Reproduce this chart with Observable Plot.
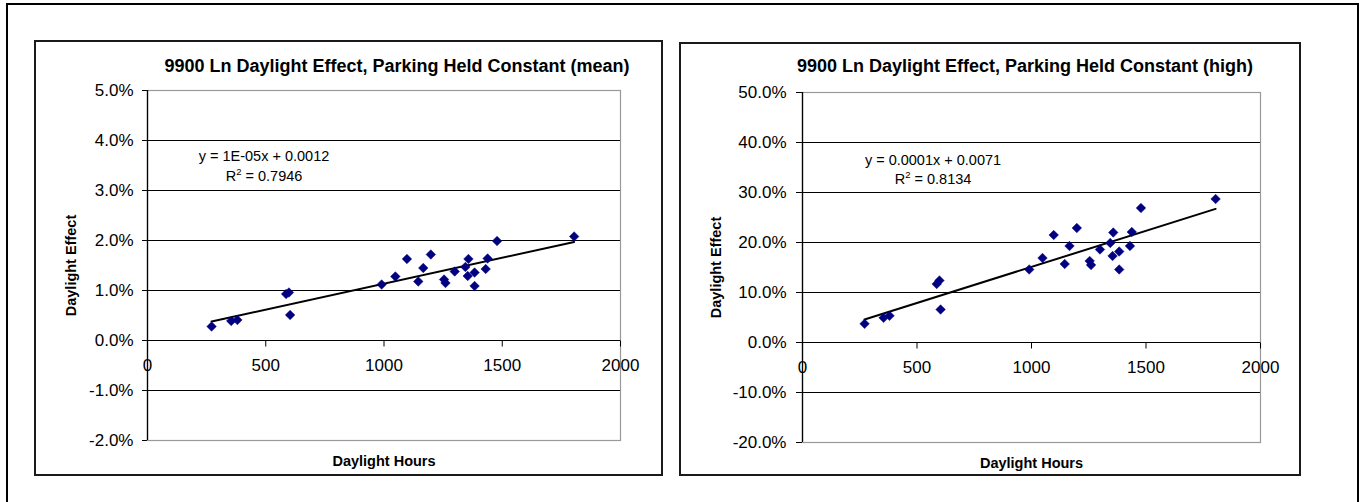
<!DOCTYPE html>
<html><head><meta charset="utf-8">
<script src="https://cdn.jsdelivr.net/npm/d3@7"></script>
<script src="https://cdn.jsdelivr.net/npm/@observablehq/plot@0.6"></script>
<style>
body{margin:0;background:#fff;}
#page{position:relative;width:1365px;height:502px;overflow:hidden;font-family:"Liberation Sans",Arial,sans-serif;color:#000;background:#fff;}
.box{position:absolute;box-sizing:border-box;}
.title{position:absolute;font-weight:bold;font-size:18px;line-height:18px;white-space:nowrap;text-align:center;width:600px;}
.eq{position:absolute;font-size:14.5px;text-align:center;width:240px;white-space:nowrap;}
.eq sup{font-size:9.5px;line-height:0;vertical-align:6px;}
.chart{position:absolute;}
</style></head><body>
<div id="page">
  <div class="box" style="left:6px;top:3px;width:1353px;height:600px;border:2.5px solid #000;"></div>
  <div class="box" style="left:34px;top:40px;width:629px;height:436px;border:2px solid #1a1a1a;"></div>
  <div class="box" style="left:679px;top:42px;width:622px;height:434px;border:2px solid #1a1a1a;"></div>
  <div id="c1" class="chart" style="left:35px;top:40px;"></div>
  <div id="c2" class="chart" style="left:680px;top:42px;"></div>
  <div class="title" id="t1" style="left:97px;top:57px;"></div>
  <div class="title" id="t2" style="left:725px;top:57px;"></div>
  <div class="eq" id="e1" style="left:144px;top:146px;line-height:20px;"></div>
  <div class="eq" id="e2" style="left:813px;top:151px;line-height:19px;"></div>
</div>
<script>
// ---- data ----
const daylightHours = [271, 354, 380, 586, 598, 603, 990, 1048, 1097, 1145, 1166, 1198, 1254, 1260, 1299, 1344, 1357, 1354, 1383, 1383, 1430, 1438, 1478, 1804];
const meanEffect = [0.0028, 0.0039, 0.0041, 0.0093, 0.0096, 0.0051, 0.0112, 0.0128, 0.0163, 0.0118, 0.0145, 0.0172, 0.0122, 0.0115, 0.0138, 0.0147, 0.0163, 0.0129, 0.0136, 0.0109, 0.0143, 0.0164, 0.0199, 0.0208];
const highEffect = [0.0373, 0.0493, 0.0533, 0.117, 0.124, 0.066, 0.146, 0.169, 0.215, 0.157, 0.193, 0.229, 0.163, 0.155, 0.186, 0.199, 0.220, 0.173, 0.182, 0.146, 0.193, 0.221, 0.269, 0.287];
const meanTicks = [-0.02, -0.01, 0, 0.01, 0.02, 0.03, 0.04, 0.05];
const highTicks = [-0.2, -0.1, 0, 0.1, 0.2, 0.3, 0.4, 0.5];
const xTicks = [0, 500, 1000, 1500, 2000];
const titles = ["9900 Ln Daylight Effect, Parking Held Constant (mean)", "9900 Ln Daylight Effect, Parking Held Constant (high)"];
const equations = [["y = 1E-05x + 0.0012", "0.7946"], ["y = 0.0001x + 0.0071", "0.8134"]];
const xLabel = "Daylight Hours";
const yLabel = "Daylight Effect";

const fmt = d => (d * 100).toFixed(1) + "%";
const tickDown = {draw(ctx) { ctx.moveTo(0, 0); ctx.lineTo(0, 6); }};

function makeChart(values, yTicks, o) {
  const data = daylightHours.map((h, i) => ({h, v: values[i]}));
  const inner = yTicks.filter((t, i) => i > 0 && i < yTicks.length - 1 && t !== 0);
  return Plot.plot({
    width: o.width, height: o.height,
    marginLeft: o.ml, marginRight: o.mr, marginTop: 50, marginBottom: o.mb,
    style: {fontFamily: "Liberation Sans, Arial, sans-serif", fontSize: "17px", background: "transparent", overflow: "visible", color: "#000"},
    x: {domain: [0, 2000], axis: null},
    y: {domain: [yTicks[0], yTicks[yTicks.length - 1]], ticks: yTicks, tickFormat: fmt, tickSize: o.ts, tickPadding: o.tp, label: null},
    marks: [
      Plot.ruleY(inner, {y: d => d, stroke: "#000", strokeWidth: 1}),
      Plot.frame({stroke: "#999", strokeWidth: 1.2}),
      Plot.ruleY([0], {y: d => d, stroke: "#000", strokeWidth: 1}),
      Plot.ruleX([0], {x: d => d, stroke: "#000", strokeWidth: 1.3}),
      Plot.dot(xTicks, {x: d => d, y: () => 0, symbol: tickDown, r: 1, stroke: "#000", fill: "none", strokeWidth: 1}),
      Plot.text(xTicks, {x: d => d, y: () => 0, text: d => String(d), dy: 25, fontSize: 17, lineAnchor: "middle"}),
      Plot.linearRegressionY(data, {x: "h", y: "v", ci: 0, stroke: "#000", strokeWidth: 2}),
      Plot.dot(data, {x: "h", y: "v", symbol: "diamond2", r: 4.3, fill: "#000080", stroke: "#000080", strokeWidth: 0.5}),
      Plot.text([yLabel], {frameAnchor: "left", dx: o.yldx, rotate: -90, text: d => d, fontWeight: "bold", fontSize: 14.5, lineAnchor: "middle", textAnchor: "middle"}),
      Plot.text([xLabel], {frameAnchor: "bottom", dy: 21, text: d => d, fontWeight: "bold", fontSize: 14.5, lineAnchor: "middle", textAnchor: "middle"})
    ]
  });
}

document.getElementById("c1").append(makeChart(meanEffect, meanTicks, {width: 627, height: 435, ml: 112, mr: 42, mb: 35, ts: 5, tp: 9, yldx: -76}));
document.getElementById("c2").append(makeChart(highEffect, highTicks, {width: 620, height: 433, ml: 122, mr: 40, mb: 33, ts: 6, tp: 10, yldx: -86}));

document.getElementById("t1").textContent = titles[0];
document.getElementById("t2").textContent = titles[1];
[["e1", 0], ["e2", 1]].forEach(([id, i]) => {
  const el = document.getElementById(id);
  const l1 = document.createElement("div"); l1.textContent = equations[i][0];
  const l2 = document.createElement("div");
  l2.append("R");
  const s = document.createElement("sup"); s.textContent = "2"; l2.append(s);
  l2.append(" = " + equations[i][1]);
  el.append(l1, l2);
});
</script>
</body></html>
